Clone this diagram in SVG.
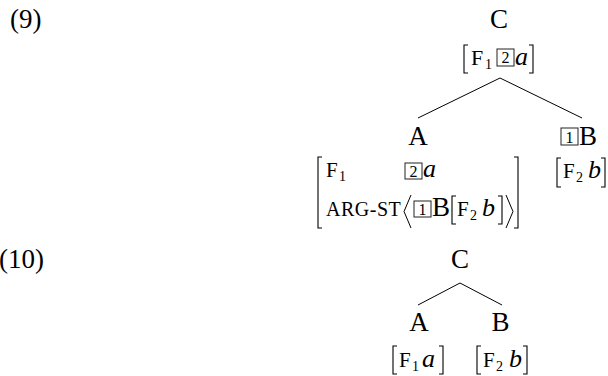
<svg xmlns="http://www.w3.org/2000/svg" width="608" height="376" viewBox="0 0 608 376">
<style>
text{font-family:"Liberation Serif","Times New Roman",serif;fill:#000}
.m{font-size:27px}
.c{text-anchor:middle}
.f{font-size:21px}
.s{font-size:14px}
.i{font-size:26px;font-style:italic}
.sc{font-size:20px;letter-spacing:0.5px}
.d{font-size:16px;text-anchor:middle}
.bx{fill:none;stroke:#222;stroke-width:1}
.br{fill:none;stroke:#000;stroke-width:1.1}
.ln{stroke:#000;stroke-width:1;fill:none}
</style>
<rect width="608" height="376" fill="#fff"/>
<g id="ex9"><text class="m" x="10" y="28">(9)</text></g>
<g id="ex10"><text class="m" x="-1" y="268">(10)</text></g>

<g id="connectors">
<line class="ln" x1="500" y1="78" x2="418" y2="118"/>
<line class="ln" x1="500" y1="78" x2="582" y2="118"/>
<line class="ln" x1="460" y1="283" x2="418" y2="305"/>
<line class="ln" x1="460" y1="283" x2="502" y2="305"/>
</g>

<g id="nodeC1">
<text class="m c" x="499" y="28">C</text>
<path class="br" d="M468,45 H464 V73 H468"/>
<text class="f" x="471" y="65" style="font-size:22px">F</text>
<text class="s" x="485" y="69">1</text>
<rect class="bx" x="497" y="49" width="17" height="17"/>
<text class="d" x="505.5" y="63">2</text>
<text class="i" x="515" y="65">a</text>
<path class="br" d="M529,45 H533 V73 H529"/>
</g>

<g id="nodeA1">
<text class="m c" x="418" y="145">A</text>
<path class="br" d="M322,157 H318 V228 H322"/>
<text class="f" x="326" y="177">F</text>
<text class="s" x="339" y="181">1</text>
<rect class="bx" x="405" y="163" width="17" height="16"/>
<text class="d" x="413.5" y="177">2</text>
<text class="i" x="423" y="177">a</text>
<text class="sc" x="326" y="216">ARG-ST</text>
<path class="ln" d="M411,195 L404,211.5 L411,228"/>
<rect class="bx" x="414" y="201" width="17" height="16"/>
<text class="d" x="422.5" y="215">1</text>
<text class="m" x="432" y="216">B</text>
<path class="br" d="M456,196 H452 V224 H456"/>
<text class="f" x="457" y="216">F</text>
<text class="s" x="470" y="220">2</text>
<text class="i" x="482" y="216">b</text>
<path class="br" d="M498,196 H502 V224 H498"/>
<path class="ln" d="M506,195 L513,211.5 L506,228"/>
<path class="br" d="M514,157 H518 V228 H514"/>
</g>

<g id="nodeB1">
<rect class="bx" x="561" y="128" width="17" height="17"/>
<text class="d" x="569.5" y="143">1</text>
<text class="m" x="579" y="145">B</text>
<path class="br" d="M561,158 H557 V187 H561"/>
<text class="f" x="563" y="178">F</text>
<text class="s" x="576" y="182">2</text>
<text class="i" x="588" y="178">b</text>
<path class="br" d="M601,158 H605 V187 H601"/>
</g>

<g id="nodeC2"><text class="m c" x="460" y="268">C</text></g>

<g id="nodeA2">
<text class="m c" x="419" y="331">A</text>
<path class="br" d="M397,346 H393 V374 H397"/>
<text class="f" x="399" y="367">F</text>
<text class="s" x="412" y="371">1</text>
<text class="i" x="422" y="367">a</text>
<path class="br" d="M439,346 H443 V374 H439"/>
</g>

<g id="nodeB2">
<text class="m c" x="500.5" y="331">B</text>
<path class="br" d="M481,346 H477 V374 H481"/>
<text class="f" x="483" y="367">F</text>
<text class="s" x="496" y="371">2</text>
<text class="i" x="509" y="367">b</text>
<path class="br" d="M523,346 H527 V374 H523"/>
</g>
</svg>
